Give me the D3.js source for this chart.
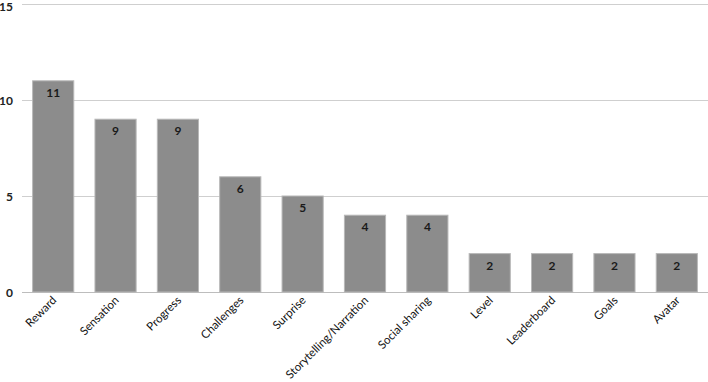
<!DOCTYPE html>
<html>
<head>
<meta charset="utf-8">
<script src="https://cdn.jsdelivr.net/npm/d3@7"></script>
<style>
  body { margin: 0; background: #fff; }
  text { font-family: Lato, "Liberation Sans", sans-serif; }
</style>
</head>
<body>
<div id="chart"></div>
<script>
// categories and counts
const categories = ["Reward", "Sensation", "Progress", "Challenges", "Surprise",
  "Storytelling/Narration", "Social sharing", "Level", "Leaderboard", "Goals", "Avatar"];
const counts = [11, 9, 9, 6, 5, 4, 4, 2, 2, 2, 2];
const yTicks = [0, 5, 10, 15];

const width = 708;
const height = 382;

const svg = d3.select("#chart")
    .append("svg")
    .attr("width", width)
    .attr("height", height);

const x = d3.scaleBand()
    .domain(categories)
    .range([22, 708])
    .paddingInner(0.34)
    .paddingOuter(0.17);

const y = d3.scaleLinear()
    .domain([0, 15])
    .range([292, 4]);

// gridlines
svg.selectAll("line.grid")
    .data(yTicks)
    .enter()
    .append("line")
    .attr("class", "grid")
    .attr("x1", 22)
    .attr("x2", 708)
    .attr("y1", d => y(d) + 0.5)
    .attr("y2", d => y(d) + 0.5)
    .attr("stroke", d => d === 0 ? "#bdbdbd" : "#cfcfcf")
    .attr("stroke-width", 1);

// y tick labels
svg.selectAll("text.ytick")
    .data(yTicks)
    .enter()
    .append("text")
    .attr("class", "ytick")
    .attr("x", 13)
    .attr("y", d => Math.max(y(d) + 5, 11))
    .attr("text-anchor", "end")
    .style("font-size", "12px")
    .style("font-weight", "bold")
    .style("fill", "#222")
    .text(d => d);

// bars
const data = categories.map((c, i) => ({ cat: c, val: counts[i] }));

svg.selectAll("rect.bar")
    .data(data)
    .enter()
    .append("rect")
    .attr("class", "bar")
    .attr("x", d => x(d.cat))
    .attr("y", d => y(d.val))
    .attr("width", x.bandwidth())
    .attr("height", d => y(0) - y(d.val))
    .attr("fill", "#8c8c8c")
    .attr("stroke", "#b8b8b8")
    .attr("stroke-width", 1);

// value labels inside bars
svg.selectAll("text.val")
    .data(data)
    .enter()
    .append("text")
    .attr("class", "val")
    .attr("x", d => x(d.cat) + x.bandwidth() / 2)
    .attr("y", d => y(d.val) + 16)
    .attr("text-anchor", "middle")
    .style("font-size", "12px")
    .style("font-weight", "bold")
    .style("fill", "#1a1a1a")
    .text(d => d.val);

// rotated category labels
svg.selectAll("text.cat")
    .data(data)
    .enter()
    .append("text")
    .attr("class", "cat")
    .attr("transform", d => "translate(" + (x(d.cat) + x.bandwidth() / 2 + 4) + ",301) rotate(-45)")
    .attr("text-anchor", "end")
    .style("font-size", "11.5px")
    .style("fill", "#111")
    .text(d => d.cat);
</script>
</body>
</html>
